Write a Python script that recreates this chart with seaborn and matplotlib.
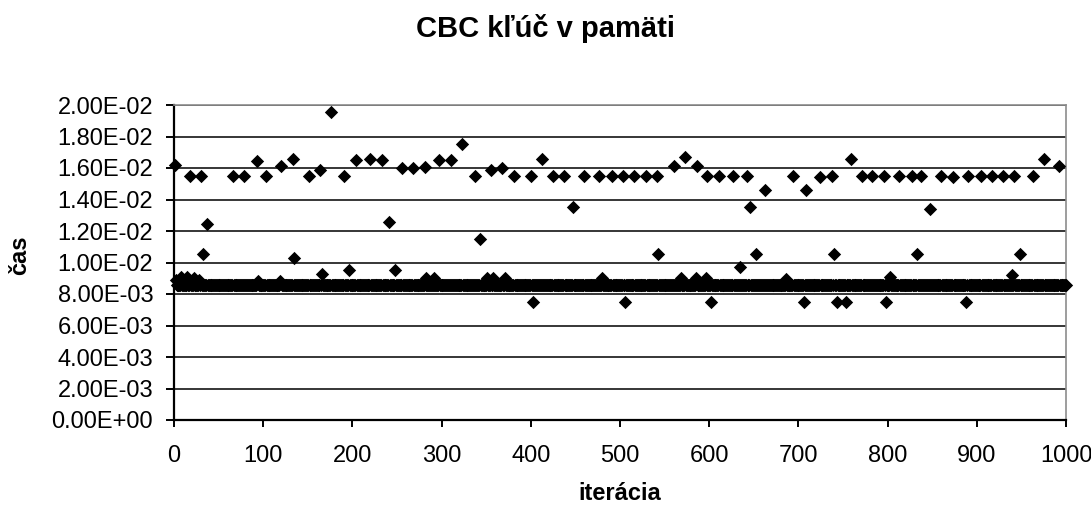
import numpy as np
import pandas as pd
import matplotlib
matplotlib.use("Agg")
import matplotlib.pyplot as plt
from matplotlib.ticker import FuncFormatter, MultipleLocator
import seaborn as sns

# Measured run: 1000 iterations of CBC with the key held in memory.
N_ITER = 1000
BASE_TIME = 8.55e-3  # typical time of one iteration (s)

# Iterations whose time departs from the typical value (s)
slow_iter = [1, 18, 30, 66, 79, 93, 103, 120, 133, 151, 164, 176, 191, 204, 220,
             233, 256, 268, 281, 297, 310, 323, 337, 355, 368, 381, 400, 412, 425,
             437, 460, 476, 491, 503, 516, 529, 542, 560, 573, 586, 598, 611, 627,
             642, 694, 724, 738, 759, 771, 783, 796, 813, 827, 838, 860, 873, 890,
             905, 917, 929, 942, 963, 975, 992]
slow_time = [16.2e-3, 15.5e-3, 15.5e-3, 15.5e-3, 15.5e-3, 16.45e-3, 15.5e-3, 16.1e-3,
             16.6e-3, 15.5e-3, 15.9e-3, 19.55e-3, 15.5e-3, 16.5e-3, 16.6e-3, 16.5e-3,
             16.0e-3, 16.0e-3, 16.05e-3, 16.5e-3, 16.5e-3, 17.5e-3, 15.5e-3, 15.9e-3,
             16.0e-3, 15.5e-3, 15.5e-3, 16.6e-3, 15.5e-3, 15.5e-3, 15.5e-3, 15.5e-3,
             15.5e-3, 15.5e-3, 15.5e-3, 15.5e-3, 15.5e-3, 16.1e-3, 16.7e-3, 16.1e-3,
             15.5e-3, 15.5e-3, 15.5e-3, 15.5e-3, 15.5e-3, 15.4e-3, 15.5e-3, 16.6e-3,
             15.5e-3, 15.5e-3, 15.5e-3, 15.5e-3, 15.5e-3, 15.5e-3, 15.5e-3, 15.4e-3,
             15.5e-3, 15.5e-3, 15.5e-3, 15.5e-3, 15.5e-3, 15.5e-3, 16.6e-3, 16.1e-3]

mid_iter = [32, 37, 134, 166, 196, 241, 248, 343, 447, 543, 634, 646, 652, 663,
            708, 740, 833, 848, 940, 948]
mid_time = [10.55e-3, 12.45e-3, 10.3e-3, 9.3e-3, 9.5e-3, 12.55e-3, 9.55e-3, 11.5e-3,
            13.5e-3, 10.55e-3, 9.7e-3, 13.5e-3, 10.55e-3, 14.6e-3, 14.6e-3, 10.55e-3,
            10.55e-3, 13.4e-3, 9.2e-3, 10.55e-3]

near_iter = [2, 8, 15, 22, 28, 94, 119, 268, 282, 291, 351, 358, 371, 480, 568,
             585, 596, 686, 803, 992]
near_time = [8.9e-3, 9.1e-3, 9.1e-3, 9.0e-3, 8.9e-3, 8.8e-3, 8.8e-3, 9.0e-3, 9.0e-3,
             9.0e-3, 9.0e-3, 9.0e-3, 9.0e-3, 9.0e-3, 9.0e-3, 9.0e-3, 9.0e-3, 8.95e-3,
             9.1e-3, 8.9e-3]

fast_iter = [402, 506, 602, 706, 743, 753, 798, 888]
fast_time = [7.47e-3, 7.5e-3, 7.5e-3, 7.5e-3, 7.5e-3, 7.5e-3, 7.5e-3, 7.5e-3]

y_ticks = [0.0, 2e-3, 4e-3, 6e-3, 8e-3, 10e-3, 12e-3, 14e-3, 16e-3, 18e-3, 20e-3]

# Assemble the series: every iteration takes the typical time unless listed above
iterations = np.arange(1, N_ITER + 1)
times = pd.Series(BASE_TIME, index=iterations)
for its, ts in ((near_iter, near_time), (mid_iter, mid_time),
                (slow_iter, slow_time), (fast_iter, fast_time)):
    for i, t in zip(its, ts):
        times[i] = t
df = pd.DataFrame({"iterácia": iterations, "čas": times.values})

sns.set_theme(style="white")
plt.rcParams["font.family"] = ["Liberation Sans", "DejaVu Sans"]

fig = plt.figure(figsize=(10.91, 5.09), dpi=100)
ax = fig.add_axes([174 / 1091, 1 - 420 / 509, 892 / 1091, 315 / 509])

sns.scatterplot(data=df, x="iterácia", y="čas", marker="D", color="black",
                s=46, linewidth=0, ax=ax, clip_on=False, zorder=3)

ax.set_xlim(0, 1000)
ax.set_ylim(0, 0.02)
ax.xaxis.set_major_locator(MultipleLocator(100))
ax.set_yticks(y_ticks)
ax.yaxis.set_major_formatter(FuncFormatter(lambda v, _: f"{v:.2E}"))

ax.yaxis.grid(True, color="black", linewidth=1.1)
ax.xaxis.grid(False)
ax.set_axisbelow(True)

for side in ("left", "bottom"):
    ax.spines[side].set_color("black")
    ax.spines[side].set_linewidth(1.6)
for side in ("top", "right"):
    ax.spines[side].set_color("#8c8c8c")
    ax.spines[side].set_linewidth(1.2)

ax.tick_params(axis="y", direction="out", length=6, width=1.4, color="black",
               pad=9, labelsize=17, left=True)
ax.tick_params(axis="x", direction="out", length=5, width=1.4, color="black",
               pad=13, labelsize=17, bottom=True)
for lab in ax.get_xticklabels() + ax.get_yticklabels():
    lab.set_color("black")

ax.set_xlabel("iterácia", fontsize=17, fontweight="bold", color="black")
ax.xaxis.set_label_coords(0.5, (420 - 493) / 315)
ax.xaxis.label.set_va("center")
ax.set_ylabel("čas", fontsize=17, fontweight="bold", color="black")
ax.yaxis.set_label_coords((19.5 - 174) / 892, (420 - 255) / 315)
ax.yaxis.label.set_va("center")

fig.text(546 / 1091, 1 - 37 / 509, "CBC kľúč v pamäti", ha="center",
         va="baseline", fontsize=21, fontweight="bold", color="black")

fig.savefig("out.png", dpi=100, facecolor="white")
